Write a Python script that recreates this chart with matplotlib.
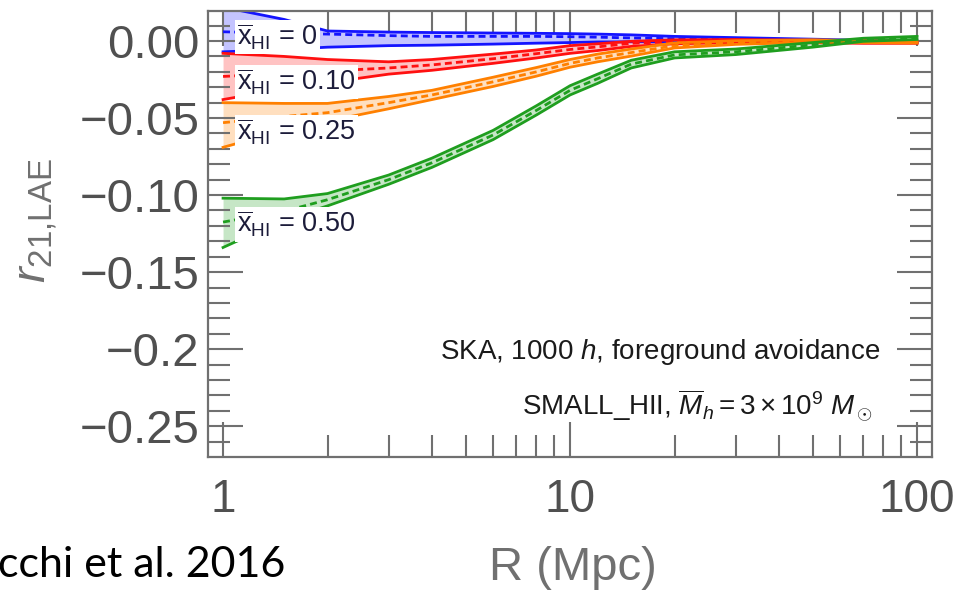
import numpy as np
import matplotlib.pyplot as plt
from matplotlib.ticker import FixedLocator, NullFormatter

plt.rcParams['font.family'] = ['Liberation Sans', 'DejaVu Sans']
plt.rcParams['mathtext.fontset'] = 'custom'
plt.rcParams['mathtext.rm'] = 'Liberation Sans'
plt.rcParams['mathtext.it'] = 'Liberation Sans:italic'
plt.rcParams['mathtext.bf'] = 'Liberation Sans:bold'

# separation R (Mpc)
R = [1, 1.5, 2, 3, 4, 6, 8, 10, 12, 15, 20, 30, 50, 70, 100]

# x_HI = 0
blue_mid = [0.006, 0.005, 0.0045, 0.0035, 0.003, 0.003, 0.003, 0.0028, 0.0025, 0.002, 0.0015, 0.001, 0.0003, 0.0, -0.0005]
blue_hi = [0.022, 0.014, 0.0065, 0.0058, 0.0055, 0.0052, 0.005, 0.0048, 0.0045, 0.004, 0.003, 0.0022, 0.0012, 0.0005, 0.0]
blue_lo = [-0.007, -0.0055, -0.004, -0.003, -0.0027, -0.002, -0.0014, -0.001, -0.0006, -0.0005, -0.0005, -0.0006, -0.0008, -0.001, -0.001]

# x_HI = 0.10
red_mid = [-0.023, -0.021, -0.0195, -0.0175, -0.0155, -0.0115, -0.0082, -0.0055, -0.0038, -0.0015, -0.0003, 0.0, -0.0003, -0.0006, -0.001]
red_hi = [-0.008, -0.010, -0.012, -0.0135, -0.012, -0.0085, -0.0058, -0.003, -0.0018, -0.0002, 0.0008, 0.001, 0.0005, 0.0, -0.0005]
red_lo = [-0.038, -0.031, -0.027, -0.0215, -0.019, -0.0145, -0.011, -0.008, -0.0062, -0.0035, -0.0018, -0.001, -0.0011, -0.0015, -0.0015]

# x_HI = 0.25
orange_mid = [-0.053, -0.049, -0.0465, -0.040, -0.035, -0.0265, -0.020, -0.0145, -0.011, -0.0075, -0.003, -0.001, 0.0, -0.0003, -0.0008]
orange_hi = [-0.040, -0.0405, -0.0405, -0.036, -0.032, -0.0235, -0.0172, -0.012, -0.0085, -0.0052, -0.0012, 0.0002, 0.0008, 0.0003, -0.0003]
orange_lo = [-0.069, -0.058, -0.052, -0.044, -0.038, -0.0295, -0.0228, -0.017, -0.0135, -0.0098, -0.0045, -0.0022, -0.0008, -0.001, -0.0013]

# x_HI = 0.50
green_mid = [-0.1175, -0.1105, -0.103, -0.090, -0.079, -0.061, -0.045, -0.032, -0.0245, -0.015, -0.009, -0.007, -0.0025, 0.0008, 0.002]
green_hi = [-0.102, -0.1025, -0.099, -0.087, -0.076, -0.058, -0.042, -0.029, -0.0215, -0.0125, -0.007, -0.0052, -0.001, 0.0018, 0.003]
green_lo = [-0.134, -0.116, -0.107, -0.093, -0.082, -0.064, -0.048, -0.035, -0.0275, -0.0175, -0.011, -0.0088, -0.004, -0.0002, 0.001]

labels = ['0', '0.10', '0.25', '0.50']
label_y = [0.0026, -0.0266, -0.059, -0.119]
colors = ['#1414ff', '#ff1010', '#ff8000', '#1f9e1f']

ytick_vals = [0.0, -0.05, -0.10, -0.15, -0.20, -0.25]
ytick_labels = ['0.00', '\u22120.05', '\u22120.10', '\u22120.15', '\u22120.2', '\u22120.25']
xtick_vals = [1, 10, 100]
xtick_labels = ['1', '10', '100']

series = [(blue_lo, blue_mid, blue_hi), (red_lo, red_mid, red_hi),
          (orange_lo, orange_mid, orange_hi), (green_lo, green_mid, green_hi)]

fig = plt.figure(figsize=(9.72, 5.90), dpi=100)
ax = fig.add_axes([0.214, 0.2254, 0.745, 0.756])

for (lo, mid, hi), c in zip(series, colors):
    ax.fill_between(R, lo, hi, color=c, alpha=0.25, lw=0)
    ax.plot(R, hi, color=c, lw=2)
    ax.plot(R, lo, color=c, lw=2)
    ax.plot(R, mid, color=c, lw=2, ls=(0, (2.5, 1.5)))

for lab, y in zip(labels, label_y):
    ax.text(1.1, y, r'$\overline{\mathrm{x}}_{\mathrm{HI}}$ = ' + lab, fontsize=19.5,
            color='#1c1c3a', ha='left', va='center', zorder=10,
            bbox=dict(facecolor='white', edgecolor='none', pad=1.5))

ax.text(0.928, 0.235, 'SKA, 1000 $h$, foreground avoidance', transform=ax.transAxes,
        ha='right', va='center', fontsize=20, color='#1a1a1a')
ax.text(0.9185, 0.114, r'SMALL_HII, $\overline{M}_h = 3\times10^9\ M_\odot$',
        transform=ax.transAxes, ha='right', va='center', fontsize=20, color='#1a1a1a')

ax.set_xscale('log')
ax.set_xlim(0.905, 110.5)
ax.set_ylim(-0.270, 0.0195)

ax.set_xticks(xtick_vals)
ax.set_xticklabels(xtick_labels)
ax.xaxis.set_minor_locator(FixedLocator([m * 10 ** d for d in range(2) for m in range(2, 10)]))
ax.xaxis.set_minor_formatter(NullFormatter())
ax.set_yticks(ytick_vals)
ax.set_yticklabels(ytick_labels)
ax.yaxis.set_minor_locator(FixedLocator(np.arange(-0.26, 0.015, 0.01)))

gray = '#707070'
for s in ax.spines.values():
    s.set_color(gray)
    s.set_linewidth(1.6)
ax.tick_params(which='both', direction='in', top=True, right=True, color=gray, width=1.5)
ax.tick_params(which='major', length=25)
ax.tick_params(which='minor', length=16)
ax.tick_params(axis='y', which='major', labelsize=34, labelcolor='#505050', pad=6)
ax.tick_params(axis='x', which='major', labelsize=33, labelcolor='#505050', pad=15)

ax.set_xlabel('R (Mpc)', fontsize=34, color='#707070')
ax.xaxis.set_label_coords(0.504, -0.20)
ax.set_ylabel(r'$r_{\mathrm{21{,}LAE}}$', fontsize=34, color='#707070')
ax.yaxis.set_label_coords(-0.205, 0.53)

fig.text(-0.002, 0.042, 'cchi et al. 2016', fontsize=31, family='Lato',
         color='black', ha='left', va='center')

fig.savefig('out.png', dpi=100)
